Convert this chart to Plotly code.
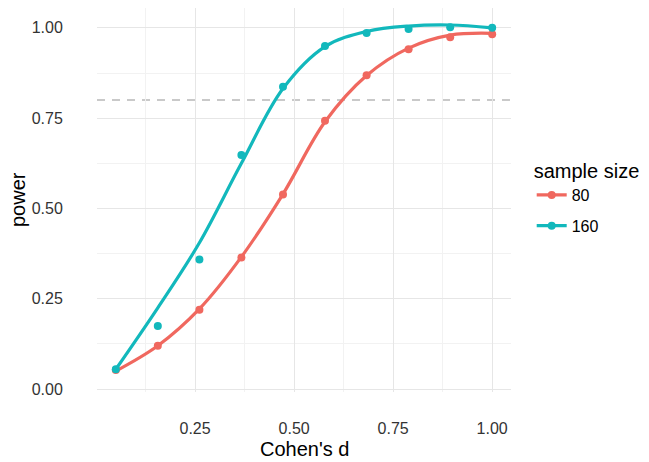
import plotly.graph_objects as go

# data
cohens_d = [0.05, 0.156, 0.261, 0.367, 0.472, 0.578, 0.683, 0.789, 0.894, 1.0]
power_80 = [0.053, 0.12, 0.22, 0.364, 0.539, 0.743, 0.869, 0.941, 0.974, 0.982]
power_160 = [0.055, 0.175, 0.359, 0.648, 0.837, 0.95, 0.986, 0.997, 1.002, 1.0]
# smoothed fits
fit_80 = [0.05, 0.12, 0.222, 0.366, 0.54, 0.74, 0.868, 0.944, 0.98, 0.985]
fit_160 = [0.055, 0.225, 0.405, 0.625, 0.832, 0.948, 0.99, 1.005, 1.008, 1.0]
series_names = ["80", "160"]
colors = ["#F0685F", "#12B8BC"]
x_ticks = [0.25, 0.50, 0.75, 1.00]
x_tick_labels = ["0.25", "0.50", "0.75", "1.00"]
y_ticks = [0.0, 0.25, 0.5, 0.75, 1.0]
y_tick_labels = ["0.00", "0.25", "0.50", "0.75", "1.00"]
minor_ticks = [0.125, 0.375, 0.625, 0.875]
threshold = 0.8

fig = go.Figure()
for name, pts, fit, col in zip(series_names, [power_80, power_160], [fit_80, fit_160], colors):
    fig.add_trace(go.Scatter(x=cohens_d, y=fit, mode="lines", line=dict(color=col, width=3.2, shape="spline", smoothing=1.0),
                             showlegend=False, hoverinfo="skip"))
    fig.add_trace(go.Scatter(x=cohens_d, y=pts, mode="markers", marker=dict(color=col, size=8),
                             showlegend=False))
for name, col in zip(series_names, colors):
    fig.add_trace(go.Scatter(x=[None], y=[None], mode="lines+markers", name=name, legendgroup=name,
                             line=dict(color=col, width=3.2), marker=dict(color=col, size=8)))

fig.add_shape(type="line", xref="paper", x0=0, x1=1, yref="y", y0=threshold, y1=threshold,
              line=dict(color="#b8b8b8", width=1.5, dash="8px,7px"), layer="between")

font = "Liberation Sans, Arial, sans-serif"
fig.add_annotation(text="power", xref="paper", yref="paper", x=0, y=0.5, xshift=-79,
                   xanchor="center", yanchor="middle",
                   textangle=-90, showarrow=False, font=dict(size=20, color="#000000"))
fig.add_annotation(text="Cohen's d", xref="paper", yref="paper", x=0.5, y=0, yshift=-57,
                   xanchor="center", yanchor="middle",
                   showarrow=False, font=dict(size=20, color="#000000"))
fig.update_layout(
    width=641, height=454,
    margin=dict(l=89, r=138, t=0, b=70),
    paper_bgcolor="white", plot_bgcolor="white",
    font=dict(family=font, color="#000000"),
    xaxis=dict(range=[0.0025, 1.0475], tickvals=x_ticks, ticktext=x_tick_labels, automargin=False,
               showgrid=True, gridcolor="#e6e6e6", gridwidth=1, zeroline=False, showline=False,
               ticks="outside", ticklen=22, tickcolor="rgba(0,0,0,0)",
               tickfont=dict(size=16, color="#333333"),
               minor=dict(tickvals=minor_ticks, showgrid=True, gridcolor="#f2f2f2", gridwidth=1)),
    yaxis=dict(range=[-0.008, 1.055], tickvals=y_ticks, ticktext=y_tick_labels, automargin=False,
               showgrid=True, gridcolor="#e6e6e6", gridwidth=1, zeroline=False, showline=False,
               ticks="outside", ticklen=30, tickcolor="rgba(0,0,0,0)",
               tickfont=dict(size=16, color="#333333"),
               minor=dict(tickvals=minor_ticks, showgrid=True, gridcolor="#f2f2f2", gridwidth=1)),
    legend=dict(title=dict(text="sample size", font=dict(size=20)), font=dict(size=16),
                x=1.05, xanchor="left", y=0.625, yanchor="top",
                itemwidth=30, tracegroupgap=7),
)

fig.write_html("out.html")
